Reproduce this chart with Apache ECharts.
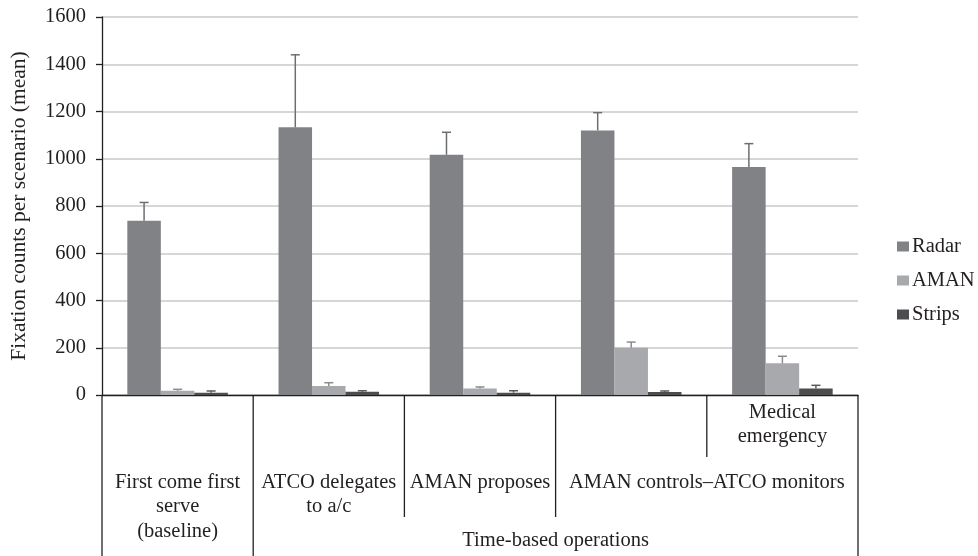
<!DOCTYPE html>
<html>
<head>
<meta charset="utf-8">
<script src="https://cdn.jsdelivr.net/npm/echarts@6/dist/echarts.min.js"></script>
<style>
  html, body { margin: 0; padding: 0; background: #ffffff; }
  #chart { width: 978px; height: 556px; }
</style>
</head>
<body>
<div id="chart"></div>
<script>
// ---- data ----
const categories = ['First come first serve (baseline)', 'ATCO delegates to a/c', 'AMAN proposes', 'AMAN controls–ATCO monitors', 'Medical emergency'];
const categoryLabels = ['First come first\nserve\n(baseline)', 'ATCO delegates\nto a/c', 'AMAN proposes', '', ''];
const medicalLabel = 'Medical\nemergency';
const controlsLabel = 'AMAN controls–ATCO monitors';
const timeBasedLabel = 'Time-based operations';
const seriesNames = ['Radar', 'AMAN', 'Strips'];
const radar = [738, 1133, 1017, 1120, 965];
const radarHigh = [815, 1440, 1112, 1195, 1064];
const aman = [18, 38, 27, 200, 134];
const amanHigh = [24, 52, 34, 224, 164];
const strips = [10, 14, 10, 13, 28];
const stripsHigh = [17, 18, 18, 17, 41];
const yTicks = [0, 200, 400, 600, 800, 1000, 1200, 1400, 1600];
const yTitle = 'Fixation counts per scenario (mean)';

// ---- styles ----
const FONT = 'Liberation Serif';
const FS = 20.5;
const TXT = '#231f20';
const colors = ['#808285', '#a7a9ac', '#4d4d4f'];
const errColors = ['#6d6e71', '#8a8b8e', '#5a5a5c'];
const GAP = 0.335;

const chart = echarts.init(document.getElementById('chart'), null, { renderer: 'canvas' });

function errSeries(idx, lows, highs) {
  return {
    type: 'custom',
    name: seriesNames[idx] + ' error',
    silent: true,
    z: 10,
    encode: { x: 0, y: [1, 2] },
    data: lows.map((v, i) => [i, v, highs[i]]),
    renderItem: function (params, api) {
      const i = api.value(0);
      const base = api.coord([i, api.value(1)]);
      const top = api.coord([i, api.value(2)]);
      const band = api.size([1, 0])[0];
      const barW = band * (1 - GAP) / 3;
      const x = base[0] + (idx - 1) * barW;
      const cap = 4.5;
      const st = { stroke: errColors[idx], lineWidth: 1.5 };
      return {
        type: 'group',
        children: [
          { type: 'line', shape: { x1: x, y1: base[1], x2: x, y2: top[1] }, style: st },
          { type: 'line', shape: { x1: x - cap, y1: top[1], x2: x + cap, y2: top[1] }, style: st }
        ]
      };
    }
  };
}

const valuesList = [radar, aman, strips];
const highsList = [radarHigh, amanHigh, stripsHigh];

const option = {
  animation: false,
  textStyle: { fontFamily: FONT, color: TXT },
  grid: { left: 97, right: 120, top: 17, bottom: 161, containLabel: false },
  legend: {
    data: seriesNames,
    orient: 'vertical',
    left: 892,
    top: 231,
    icon: 'rect',
    itemWidth: 12,
    itemHeight: 10,
    itemGap: 13,
    textStyle: { fontFamily: FONT, fontSize: FS, color: TXT, padding: [0, 0, 0, -2] }
  },
  xAxis: {
    type: 'category',
    data: categories,
    axisLine: { show: true, lineStyle: { color: '#231f20', width: 1.3 } },
    axisTick: { show: false },
    axisLabel: { show: false },
    splitLine: { show: false }
  },
  yAxis: {
    type: 'value',
    min: 0,
    max: 1600,
    interval: 200,
    name: yTitle,
    nameLocation: 'middle',
    nameGap: 72,
    nameTextStyle: { fontFamily: FONT, fontSize: 21.5, color: TXT },
    axisLine: { show: true, lineStyle: { color: '#231f20', width: 1.3 } },
    axisTick: { show: true, length: 6, lineStyle: { color: '#231f20', width: 1.3 } },
    axisLabel: {
      margin: 16,
      fontFamily: FONT, fontSize: FS, color: TXT,
      formatter: function (v) { return yTicks.indexOf(v) >= 0 ? String(v) : ''; }
    },
    splitLine: { show: true, lineStyle: { color: '#c8c9cb', width: 1.6 } }
  },
  series: [
    ...valuesList.map((vals, k) => ({
      type: 'bar',
      name: seriesNames[k],
      data: vals,
      barGap: '0%',
      barCategoryGap: (GAP * 100) + '%',
      itemStyle: { color: colors[k] },
      z: 5
    })),
    ...valuesList.map((vals, k) => errSeries(k, vals, highsList[k]))
  ]
};
chart.setOption(option);

// ---- lower category table, positioned from the axis scales ----
const c0 = chart.convertToPixel({ xAxisIndex: 0 }, 0);
const c1 = chart.convertToPixel({ xAxisIndex: 0 }, 1);
const band = c1 - c0;
const yZero = chart.convertToPixel({ yAxisIndex: 0 }, 0);
const bnd = k => c0 - band / 2 + k * band;
const cen = k => c0 + k * band;
const lineSt = { stroke: '#231f20', lineWidth: 1.3 };
const vLine = (x, len) => ({ type: 'line', shape: { x1: x, y1: yZero, x2: x, y2: yZero + len }, style: lineSt, z: 20 });
const txt = (x, yOff, text) => ({
  type: 'text', x: x, y: yZero + yOff, z: 20,
  style: { text: text, fontFamily: FONT, fontSize: FS, fill: TXT, align: 'center', verticalAlign: 'top', lineHeight: 24.5 }
});
const graphics = [
  vLine(bnd(0), 162), vLine(bnd(1), 162), vLine(bnd(2), 122), vLine(bnd(3), 122), vLine(bnd(4), 62), vLine(bnd(5), 162)
];
categoryLabels.forEach((t, k) => { if (t) graphics.push(txt(cen(k), 75, t)); });
graphics.push(txt(cen(4), 5, medicalLabel));
graphics.push(txt(bnd(4), 75, controlsLabel));
graphics.push(txt((bnd(1) + bnd(5)) / 2, 133, timeBasedLabel));
chart.setOption({ graphic: graphics });
</script>
</body>
</html>
